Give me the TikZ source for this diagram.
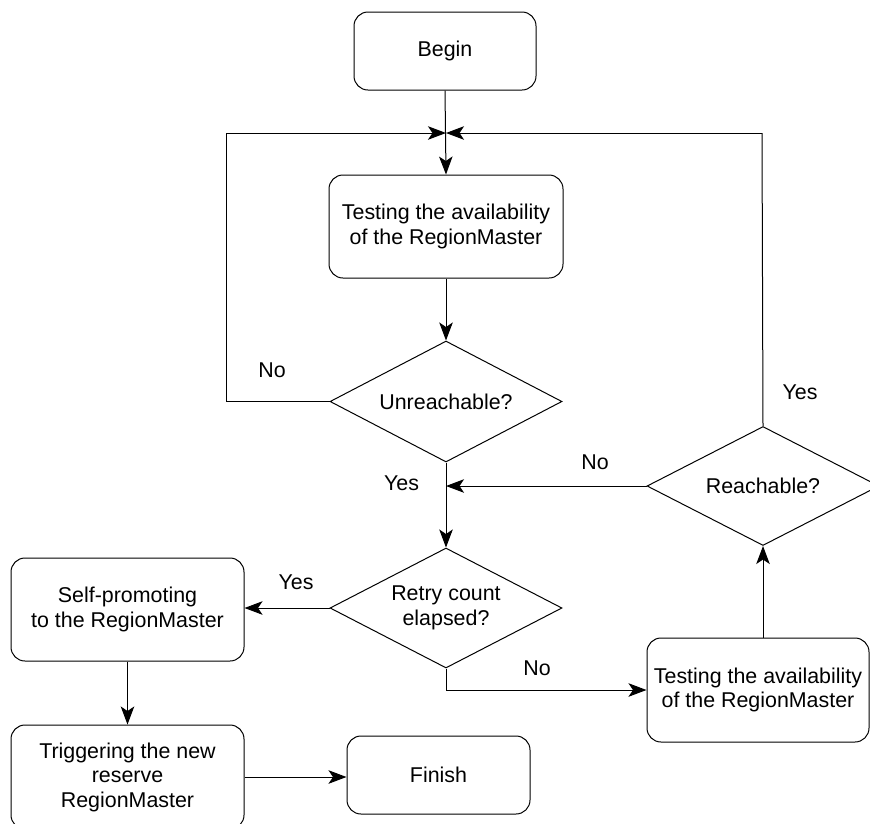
\documentclass[tikz,border=0pt]{standalone}
\usepackage{fontspec}
\setmainfont{Liberation Sans}
\usetikzlibrary{shapes.geometric,arrows.meta}

\begin{document}
\begin{tikzpicture}[x=1pt,y=-1pt,
  every node/.style={font=\fontsize{21.4pt}{24.5pt}\selectfont, align=center, inner sep=0pt},
  procbox/.style={draw, line width=1pt, rounded corners=14pt},
  decision/.style={draw, line width=1pt, diamond, aspect=2, inner sep=0pt},
  flow/.style={draw, line width=1pt, -{Stealth[length=18pt,width=13.5pt,inset=4.5pt]}},
  link/.style={draw, line width=1pt},
  lbl/.style={font=\fontsize{21.4pt}{24.5pt}\selectfont}
]
  \clip (0,0) rectangle (870,823);
  \fill[white] (0,0) rectangle (870,823);

  % process boxes
  \node[procbox, minimum width=182pt, minimum height=78pt] (begin) at (445,51) {Begin};
  \node[procbox, minimum width=234pt, minimum height=103pt] (test1) at (446,226.5)
    {Testing the availability\\of the RegionMaster};
  \node[procbox, minimum width=222pt, minimum height=104pt] (test2) at (758,690)
    {Testing the availability\\of the RegionMaster};
  \node[procbox, minimum width=233pt, minimum height=103pt] (promote) at (127.5,609.5)
    {Self-promoting\\to the RegionMaster};
  \node[procbox, minimum width=233pt, minimum height=104pt] (trigger) at (127.5,777)
    {Triggering the new\\reserve\\RegionMaster};
  \node[procbox, minimum width=183pt, minimum height=78pt] (finish) at (438.5,775) {Finish};

  % decisions
  \node[decision, minimum width=232pt, minimum height=121pt] (unreach) at (446,401.5) {Unreachable?};
  \node[decision, minimum width=232pt, minimum height=120pt] (retry) at (446,608) {Retry count\\elapsed?};
  \node[decision, minimum width=232pt, minimum height=119pt] (reach) at (763,486) {Reachable?};

  % junction points
  \coordinate (merge) at (446,133);
  \coordinate (leftloop) at (226,133);
  \coordinate (rightloop) at (762,133);
  \coordinate (join) at (446,486);
  \coordinate (bend) at (446,690);

  % connectors
  \draw[flow] (begin.south) -- (test1.north);
  \draw[link] (unreach.west) -- (unreach.west -| leftloop) -- (leftloop);
  \draw[flow] (leftloop) -- (merge);
  \draw[link] (reach.north) -- (rightloop);
  \draw[flow] (rightloop) -- (merge);
  \draw[flow] (test1.south) -- (unreach.north);
  \draw[flow] (unreach.south) -- (retry.north);
  \draw[flow] (reach.west) -- (join);
  \draw[flow] (retry.west) -- (promote.east |- retry.west);
  \draw[link] (retry.south) -- (bend);
  \draw[flow] (bend) -- (test2.west |- bend);
  \draw[flow] (test2.north -| reach.south) -- (reach.south);
  \draw[flow] (promote.south) -- (trigger.north);
  \draw[flow] (trigger.east) -- (trigger.east -| finish.west);

  % branch labels
  \node[lbl] (l1) at (272,370) {No};
  \node[lbl] (l2) at (401.5,483) {Yes};
  \node[lbl] (l3) at (595,462) {No};
  \node[lbl] (l4) at (800,392) {Yes};
  \node[lbl] (l5) at (296,582) {Yes};
  \node[lbl] (l6) at (537,668) {No};
\end{tikzpicture}
\end{document}
